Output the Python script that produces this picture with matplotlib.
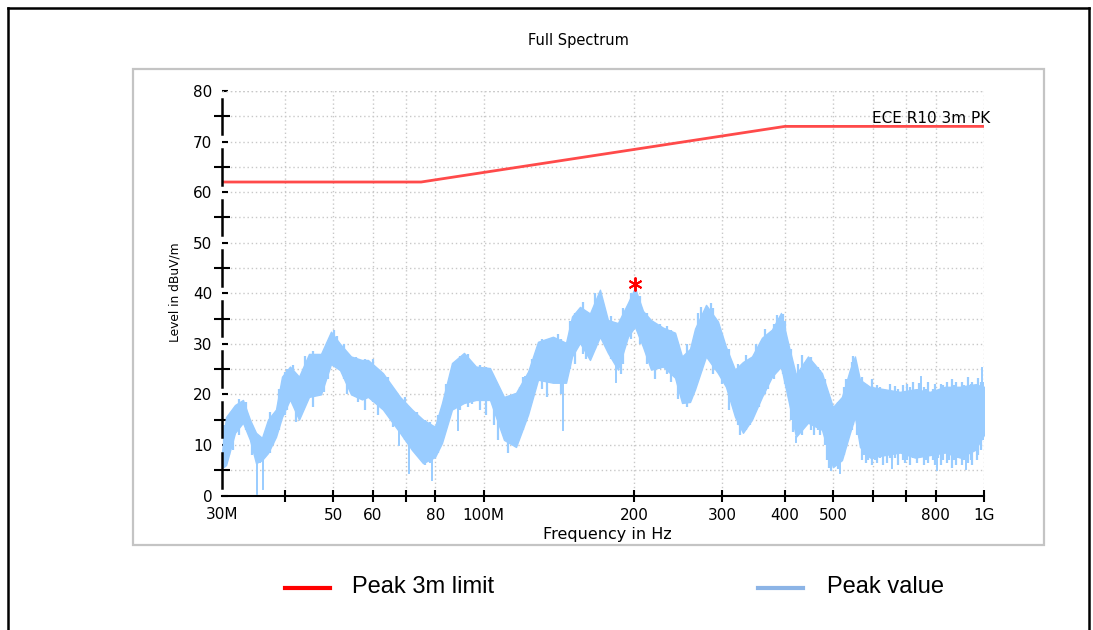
import numpy as np
import matplotlib
matplotlib.use("Agg")
import matplotlib.pyplot as plt
from matplotlib.lines import Line2D
from matplotlib.patches import Rectangle
from matplotlib.ticker import FixedLocator, NullLocator

# limit line (ECE R10 3m peak)
limit_freq = [30, 75, 400, 1000]
limit_level = [62, 62, 73, 73]

spec_freq = [30.0, 30.56, 31.85, 33.04, 34.12, 35.08, 36.06, 37.07, 38.46, 39.54,
             41.02, 42.76, 44.77, 47.31, 49.54, 51.64, 54.32, 57.14, 58.74, 62.92,
             68.06, 71.92, 75.65, 79.94, 82.56, 86.45, 91.36, 96.54, 102.97, 109.83,
             116.07, 122.7, 128.43, 137.6, 146.1, 150.2, 155.8, 163.1, 170.8, 177.2,
             185.5, 194.3, 200.6, 208.2, 216.0, 228.3, 241.3, 249.2, 258.5, 264.54,
             278.27, 294.0, 305.0, 317.9, 329.8, 343.8, 360.0, 376.9, 392.9, 407.6,
             420.9, 444.9, 474.4, 499.0, 520.1, 539.7, 552.2, 565.1, 591.7, 634.0,
             679.3, 727.9, 779.9, 835.7, 895.4, 959.3, 1000.0]
spec_hi = [8.5, 15.5, 17.9, 18.9, 15.0, 12.4, 11.4, 15.0, 17.0, 23.5,
           25.5, 23.5, 28.0, 28.0, 32.4, 30.0, 27.5, 26.8, 26.8, 24.2,
           19.5, 17.0, 15.0, 13.6, 18.3, 26.2, 28.2, 25.5, 25.2, 19.5,
           20.3, 24.5, 30.4, 31.4, 30.2, 35.4, 37.3, 36.0, 40.7, 34.7,
           34.1, 38.1, 41.1, 36.5, 34.7, 33.2, 32.2, 27.5, 29.0, 33.0,
           37.7, 34.4, 29.4, 24.9, 26.4, 27.5, 31.2, 32.8, 36.1, 29.4,
           23.9, 27.5, 24.2, 17.5, 19.5, 24.9, 27.5, 22.9, 21.5, 21.0,
           20.5, 21.0, 20.5, 21.5, 21.5, 22.0, 21.5]
spec_lo = [5.5, 6.0, 12.4, 14.4, 11.0, 6.4, 7.0, 8.4, 11.6, 15.5,
           19.0, 15.0, 19.5, 20.0, 26.0, 24.8, 20.0, 19.0, 19.5, 17.0,
           12.4, 9.0, 6.4, 7.6, 10.4, 17.0, 18.3, 18.9, 18.9, 11.0,
           9.6, 16.0, 22.9, 22.3, 22.3, 27.5, 30.2, 26.8, 31.4, 28.2,
           24.9, 31.4, 33.4, 29.4, 24.9, 25.5, 23.3, 18.3, 18.5, 21.0,
           27.5, 24.2, 21.5, 15.6, 12.4, 15.0, 19.5, 23.5, 25.5, 18.3,
           11.6, 14.4, 13.0, 5.6, 7.0, 12.4, 15.6, 9.6, 7.5, 8.0,
           8.5, 7.5, 8.0, 8.5, 7.5, 9.0, 12.0]

# short vertical strokes where the trace pokes out of the envelope
tooth_freq = [30.3, 31.0, 31.5, 32.4, 33.5, 34.5, 35.7, 37.5, 38.0, 39.0,
              40.0, 40.5, 41.5, 42.2, 43.5, 44.0, 45.5, 46.5, 48.0, 48.8,
              50.2, 50.9, 52.5, 53.3, 55.5, 56.0, 58.0, 60.0, 61.5, 64.5,
              66.0, 69.5, 73.5, 76.5, 78.0, 81.0, 84.0, 87.5, 89.5, 93.0,
              95.0, 98.5, 101, 105, 107, 112, 114, 118, 120, 125,
              131, 134, 141, 143, 149, 152, 158, 160, 167, 175,
              180, 188, 190, 197, 205, 212, 220, 225, 233, 237,
              245, 255, 268, 272, 285, 288, 300, 310, 322, 326,
              335, 340, 350, 355, 365, 370, 380, 385, 397, 400,
              412, 416, 425, 432, 438, 452, 458, 465, 470, 480,
              485, 490, 495, 505, 510, 525, 530, 545, 548, 558,
              570, 575, 580, 586, 597, 605, 612, 620, 628, 640,
              648, 656, 664, 672, 688, 695, 702, 712, 720, 735,
              742, 758, 766, 773, 790, 798, 810, 820, 828, 845,
              852, 862, 870, 880, 888, 905, 912, 930, 940, 948,
              968, 975, 985, 995]
tooth_lo = [5.5, 8, 9, 12, 13, 8, 6.5, 8.5, 10, 13,
            16, 17, 18, 14.5, 17, 19, 17.5, 20.5, 20.5, 23,
            27, 26.5, 23, 20, 19.5, 18.5, 17, 18.5, 16, 16,
            13.5, 11, 8.5, 6, 6.5, 8.5, 14, 18, 17, 17.5,
            18, 17, 16, 14, 11, 8.5, 10, 12, 13, 19,
            21, 19.5, 22.5, 20, 25, 26, 28, 27, 29, 30,
            27, 24, 26, 31, 30, 26, 23, 25, 24, 22.5,
            19, 17.5, 23, 26, 27, 24, 22, 17, 14, 12,
            13, 14, 18, 17.5, 20, 21, 23, 24.5, 24, 22,
            15, 12.5, 13, 12, 15, 13, 12, 13, 12, 10,
            7, 5.5, 4.8, 6, 5.2, 8, 9.5, 13, 14, 12,
            7, 8, 6.5, 7, 6, 7, 6.5, 7.5, 6, 6.5,
            7.5, 7, 7.5, 6, 7, 6.5, 7, 6, 7.5, 6.5,
            7.5, 6, 7, 6.5, 7, 6, 7.5, 6, 7, 6.5,
            7, 5.5, 7, 6, 7.5, 6, 7, 6.5, 7, 6,
            7, 8, 9, 11]
tooth_hi = [14, 16, 15.5, 19, 18.5, 14, 11.5, 16.5, 15, 21,
            24.5, 25, 25.8, 24, 24, 27.5, 28.5, 26.5, 27.5, 28,
            32.7, 31.5, 30, 27, 27.3, 26, 26.9, 27, 25, 23.5,
            21, 19.5, 16.5, 15, 14.5, 16, 22, 26.5, 27.5, 28,
            25, 25.8, 25.5, 22, 20, 19.5, 19, 21.5, 23.5, 27,
            31, 30, 32, 31, 34.5, 36, 38.3, 36, 40, 36,
            35.5, 34.5, 37, 40, 39.5, 36, 33.5, 34, 33.5, 32.7,
            30, 30, 36, 37.2, 38, 37, 32, 29, 26, 25.5,
            27.7, 26, 30, 28.5, 33, 31.8, 34, 35.7, 35.8, 34.6,
            29, 25.5, 26, 27.8, 26.5, 27.4, 26, 25.4, 24.8, 23,
            20, 19, 17.8, 17.5, 18.5, 21.5, 23, 26.5, 27.5, 25,
            23.5, 21, 22, 20.5, 23, 21.2, 21.8, 21.5, 21, 20,
            22, 20.5, 21.7, 21, 21.8, 20.5, 22, 21.5, 22.5, 21,
            22.2, 21.5, 21, 22.4, 21, 22, 20.5, 22, 21.8, 22.5,
            21.5, 23, 21.8, 22.4, 21.5, 22.5, 21.8, 23.5, 22, 22.5,
            22, 23.2, 22.5, 22.5]

# single narrow spikes sticking out of the band
spike_freq = [35.24, 36.23, 67.7, 70.9, 78.8, 88.9, 121.0, 144.1, 183.8,
              420.9, 515.4, 654.8, 748.0, 805.4, 920.5, 990.6]
spike_level = [0.2, 1.2, 10.0, 4.5, 3.0, 13.0, 15.6, 13.0, 22.5,
               10.6, 4.4, 5.5, 23.5, 5.0, 5.2, 25.2]

peak_freq = [200.6]
peak_level = [41.9]

x_ticks = [40, 50, 60, 70, 80, 100, 200, 300, 400, 500, 600, 700, 800, 1000]
x_labels = ["", "50", "60", "", "80", "100M", "200", "300", "400", "500", "", "", "800", "1G"]

BLUE = "#99ccff"
RED = "#ff4a4a"
W, H = 1093, 630

fig = plt.figure(figsize=(W / 100, H / 100), dpi=100)
plt.rcParams["font.family"] = "DejaVu Sans"

# outer black frame (open at the bottom) and grey chart panel
for xs, ys in [([8, 8], [630, 8]), ([8, 1089], [8, 8]), ([1089, 1089], [8, 630])]:
    fig.add_artist(Line2D([x / W for x in xs], [1 - y / H for y in ys], color="black", lw=1.8))
fig.add_artist(Rectangle((133 / W, 1 - 545 / H), (1044 - 133) / W, (545 - 69) / H,
                         transform=fig.transFigure, fill=False, ec="#c4c4c4", lw=1.6))

ax = fig.add_axes([222 / W, 1 - 495.5 / H, 762 / W, (495.5 - 91) / H])
ax.set_xscale("log")
ax.set_xlim(30, 1000)
ax.set_ylim(0, 80)

ax.fill_between(spec_freq, spec_lo, spec_hi, color=BLUE, lw=1.0, zorder=3)
ax.vlines(tooth_freq, tooth_lo, tooth_hi, color=BLUE, lw=1.6, zorder=3)
base = np.interp(spike_freq, spec_freq, spec_lo)
top = np.interp(spike_freq, spec_freq, spec_hi)
for f, lv, b, t in zip(spike_freq, spike_level, base, top):
    ax.plot([f, f], [lv, b if lv < b else t], color=BLUE, lw=1.4, zorder=3)

ax.plot(limit_freq, limit_level, color=RED, lw=2, zorder=4)
ax.plot(peak_freq, peak_level, marker=(6, 2, 0), ms=10, mew=1.4, color="red",
        ls="none", zorder=5, clip_on=False)
ax.annotate("ECE R10 3m PK", xy=(1000, limit_level[-1]), xytext=(6, 3),
            textcoords="offset pixels", ha="right", va="baseline", fontsize=11)

# axes styling
for s in ["top", "right", "left"]:
    ax.spines[s].set_visible(False)
ax.spines["bottom"].set_linewidth(1.5)

ax.xaxis.set_major_locator(FixedLocator(x_ticks))
ax.xaxis.set_minor_locator(NullLocator())
ax.set_xticklabels(x_labels)
ax.tick_params(axis="x", which="major", direction="inout", length=8, width=1.5,
               labelsize=11, pad=5)
# the 30M label sits on the y axis
ax.text(30, -3.66, "30M", ha="center", va="center", fontsize=11, clip_on=False)

ax.set_yticks(range(0, 81, 10))
ax.set_yticks(range(5, 80, 10), minor=True)
ax.tick_params(axis="y", which="major", direction="in", length=4, width=1.5,
               labelsize=11, pad=7)
ax.tick_params(axis="y", which="minor", direction="inout", length=11, width=1.5)

# broken y axis line, gaps around the labelled ticks
ytr = ax.get_yaxis_transform()
for k in range(8):
    ax.plot([0, 0], [k * 10 + 1.5, k * 10 + 8.5], color="black", lw=1.8,
            transform=ytr, clip_on=False, zorder=6)

ax.grid(True, which="both", axis="y", color="#c8c8c8", ls=(0, (1, 2)), lw=1)
ax.grid(True, which="major", axis="x", color="#c8c8c8", ls=(0, (1, 2)), lw=1)
ax.axhline(80, color="#c8c8c8", ls=(0, (1, 2)), lw=1)

fig.text(578 / W, 1 - 41 / H, "Full Spectrum", ha="center", va="center", fontsize=10.5)
fig.text(607 / W, 1 - 535 / H, "Frequency in Hz", ha="center", va="center", fontsize=11.5)
fig.text(175 / W, 1 - 292 / H, "Level in dBuV/m", ha="center", va="center",
         rotation=90, fontsize=8.8)

# legend below the panel
fig.add_artist(Line2D([285 / W, 330 / W], [1 - 588 / H] * 2, color="red", lw=3))
fig.text(352 / W, 1 - 587 / H, "Peak 3m limit", ha="left", va="center",
         fontsize=17, family="Liberation Sans")
fig.add_artist(Line2D([758 / W, 803 / W], [1 - 588 / H] * 2, color="#8cb4e6", lw=3))
fig.text(827 / W, 1 - 587 / H, "Peak value", ha="left", va="center",
         fontsize=17, family="Liberation Sans")

fig.savefig("out.png", dpi=100)
